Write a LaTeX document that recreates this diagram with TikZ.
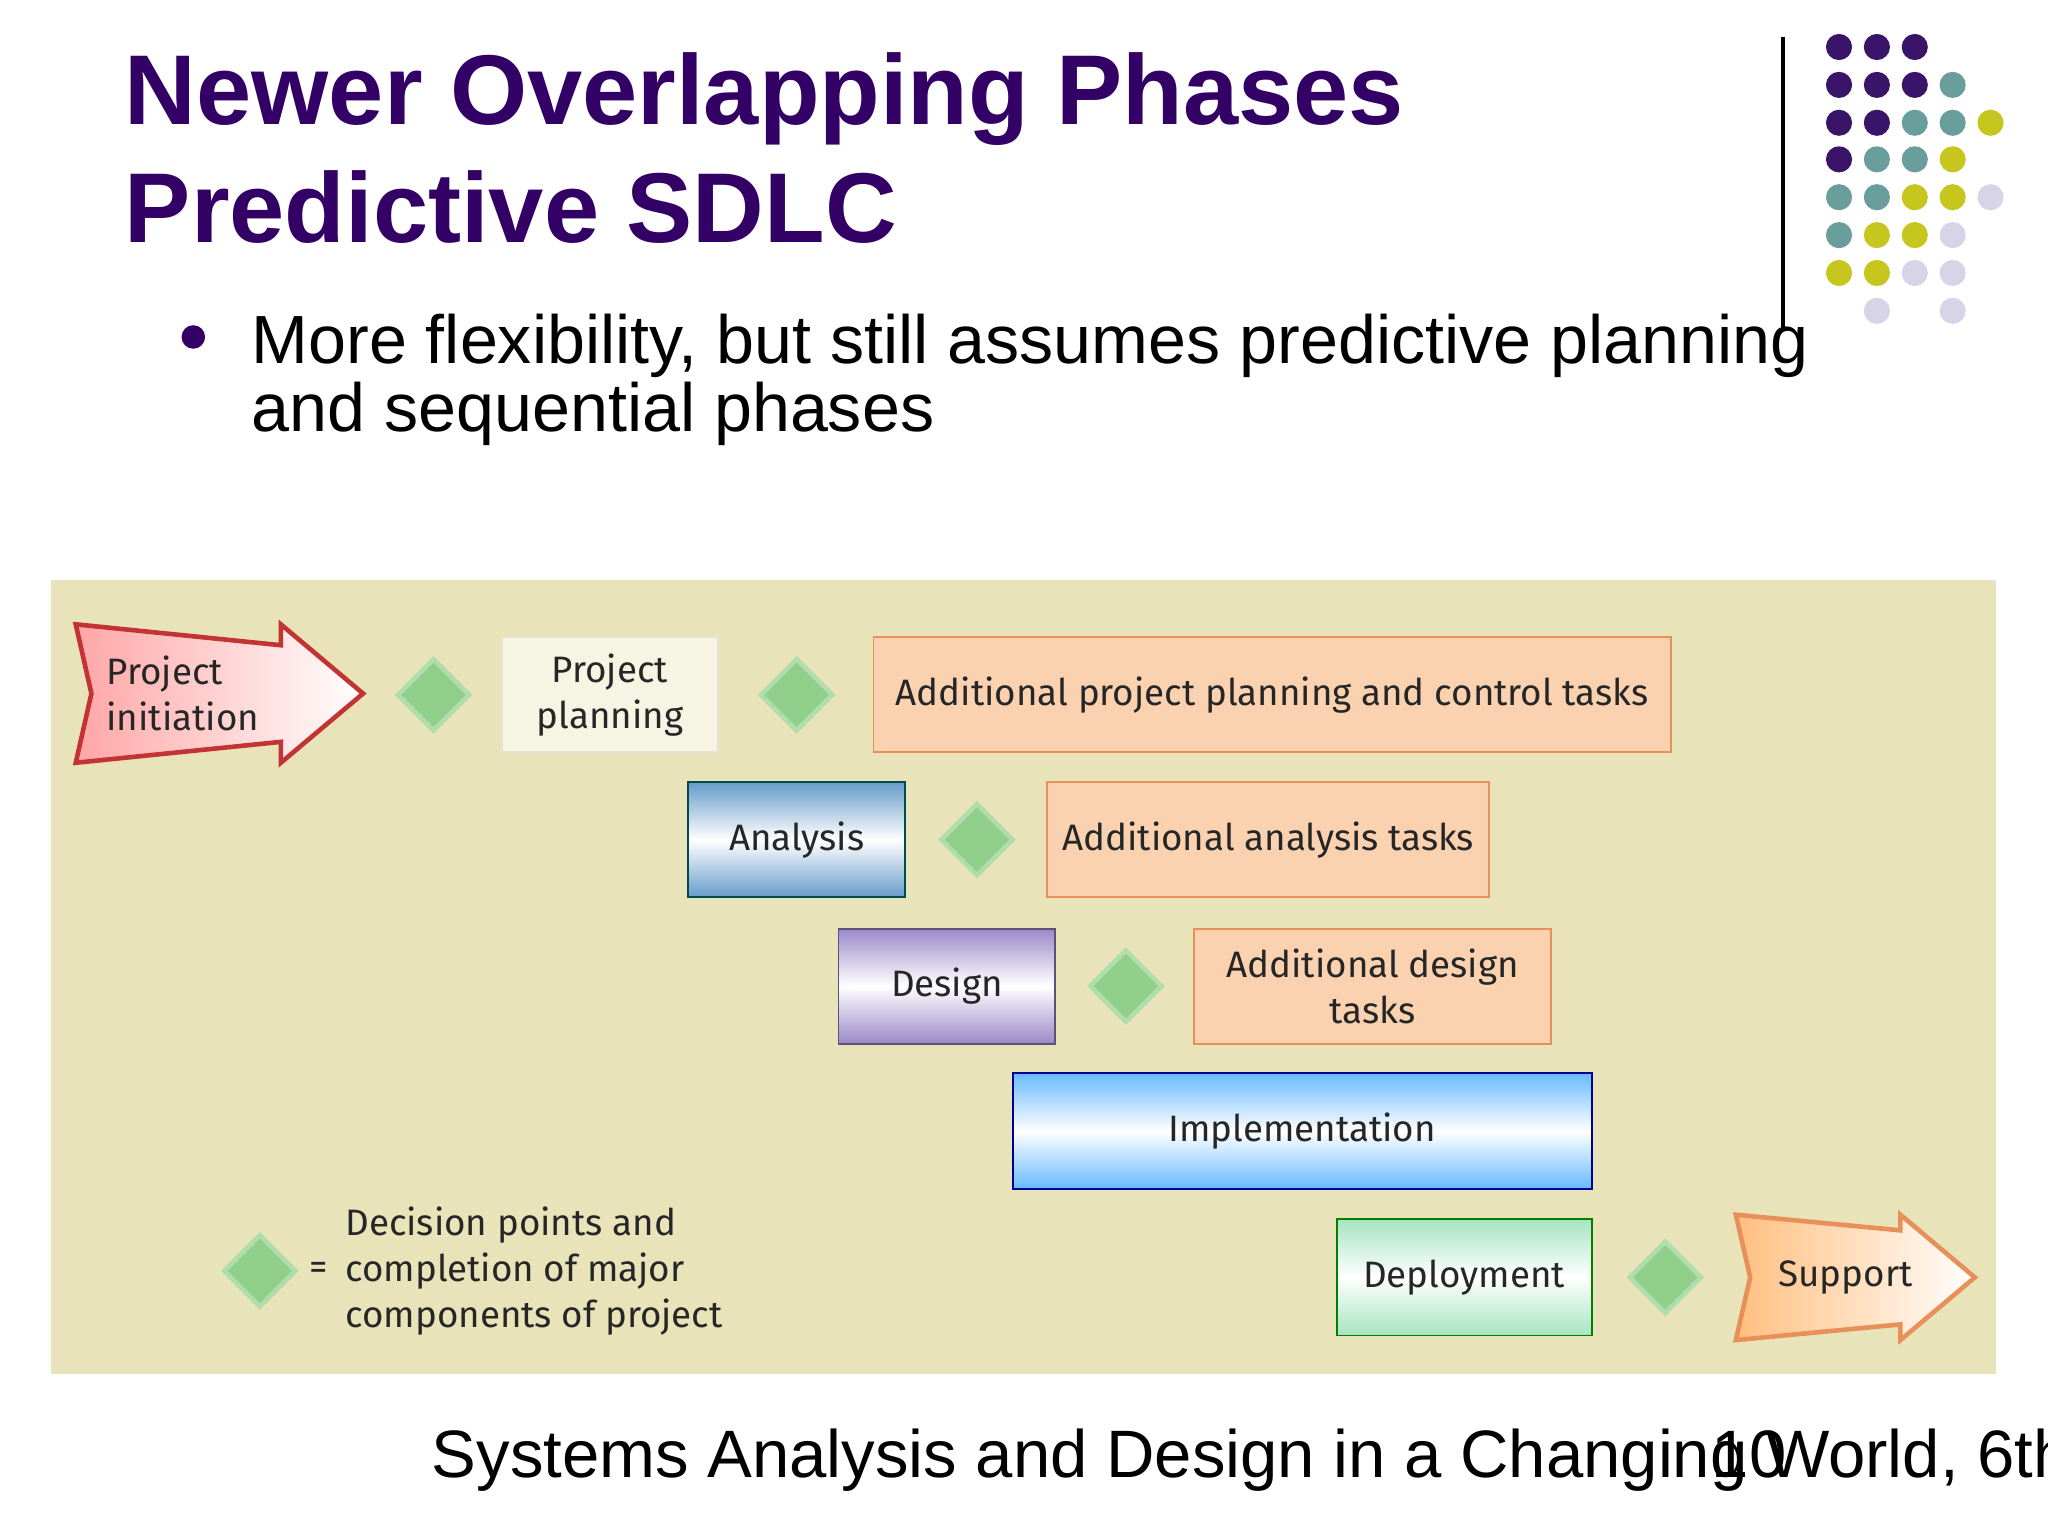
\documentclass[tikz,border=0pt]{standalone}
\usepackage{fontspec}
\setmainfont{Liberation Sans}
\newfontfamily\dfont{Fira Sans}
\usetikzlibrary{shapes.geometric}
\definecolor{ttl}{HTML}{330066}
\definecolor{dpur}{HTML}{3A1468}
\definecolor{dteal}{HTML}{6A9E9C}
\definecolor{dyel}{HTML}{C6C61E}
\definecolor{dlav}{HTML}{D8D4E8}
\definecolor{panel}{HTML}{E9E3B9}
\definecolor{orb}{HTML}{E8905A}
\definecolor{peach}{HTML}{FAD2B0}
\definecolor{dia}{HTML}{8FCF8A}
\definecolor{dsg}{HTML}{9A88C8}
\tikzset{
 lbl/.style={font=\dfont\fontsize{8}{10}\selectfont, text=black!85, align=center},
 tbox/.style={lbl, draw=orb, fill=peach, inner sep=0pt},
 dm/.style={diamond, fill=dia, draw=dia!70!white, line width=1pt, minimum width=0.56cm, minimum height=0.56cm, inner sep=0pt},
 dot/.style={circle, inner sep=0pt, minimum size=0.2cm},
}
\begin{document}
\begin{tikzpicture}[x=0.01cm,y=-0.01cm]
\useasboundingbox (0,0) rectangle (1568,1176);
\fill[white] (0,0) rectangle (1568,1176);
\node[anchor=base west, font=\bfseries\fontsize{21.6}{26}\selectfont, text=ttl, inner sep=0] (t1) at (95,95) {Newer Overlapping Phases};
\node[anchor=base west, font=\bfseries\fontsize{21.6}{26}\selectfont, text=ttl, inner sep=0] (t2) at (95,186) {Predictive SDLC};
\fill[ttl] (148,258) circle (9);
\node[anchor=base west, font=\fontsize{14.85}{15}\selectfont, inner sep=0] (b1) at (192,278) {More flexibility, but still assumes predictive planning};
\node[anchor=base west, font=\fontsize{14.85}{15}\selectfont, inner sep=0] (b2) at (192,330) {and sequential phases};
\draw[black, line width=0.8pt] (1365,28) -- (1365,250);
\foreach \x/\y/\c in {1408/36/dpur,1437/36/dpur,1466/36/dpur,
 1408/65/dpur,1437/65/dpur,1466/65/dpur,1495/65/dteal,
 1408/94/dpur,1437/94/dpur,1466/94/dteal,1495/94/dteal,1524/94/dyel,
 1408/122/dpur,1437/122/dteal,1466/122/dteal,1495/122/dyel,
 1408/151/dteal,1437/151/dteal,1466/151/dyel,1495/151/dyel,1524/151/dlav,
 1408/180/dteal,1437/180/dyel,1466/180/dyel,1495/180/dlav,
 1408/209/dyel,1437/209/dyel,1466/209/dlav,1495/209/dlav,
 1437/238/dlav,1495/238/dlav}
 \node[dot, fill=\c] at (\x,\y) {};
\fill[panel] (39,444) rectangle (1528,1052);
\draw[draw=red!70!black!80, line width=1pt, left color=red!35, right color=white]
 (58,478) -- (215,494) -- (215,478) -- (278,531) -- (215,584) -- (215,568) -- (58,584) -- (70,531) -- cycle;
\node[lbl, align=left] (pi) at (140,531) {Project\\initiation};
\node[dm] (d1) at (332,532) {};
\node[lbl, draw=panel!80!black!40, fill=panel!40!white, minimum width=1.65cm, minimum height=0.88cm] (pp) at (467,532) {Project\\planning};
\node[dm] (d2) at (610,532) {};
\node[tbox, minimum width=6.1cm, minimum height=0.88cm] (ap) at (974,532) {Additional project planning and control tasks};
\node[lbl, draw=teal!60!black, top color=teal!70!blue!60, bottom color=teal!70!blue!60, middle color=white, minimum width=1.66cm, minimum height=0.88cm] (an) at (610,643) {Analysis};
\node[dm] (d3) at (748,643) {};
\node[tbox, minimum width=3.38cm, minimum height=0.88cm] (aa) at (971,643) {Additional analysis tasks};
\node[lbl, draw=dsg!60!black, top color=dsg, bottom color=dsg, middle color=white, minimum width=1.66cm, minimum height=0.88cm] (de) at (725,755) {Design};
\node[dm] (d4) at (862,755) {};
\node[tbox, minimum width=2.73cm, minimum height=0.88cm] (ad) at (1051,755) {Additional design\\tasks};
\node[lbl, draw=blue!60!black, top color=blue!45!cyan!60, bottom color=blue!45!cyan!60, middle color=white, minimum width=4.43cm, minimum height=0.89cm] (im) at (997,866) {Implementation};
\node[lbl, draw=green!50!black, top color=green!40!teal!35, bottom color=green!40!teal!35, middle color=white, minimum width=1.95cm, minimum height=0.89cm] (dp) at (1121,978) {Deployment};
\node[dm] (d5) at (1275,978) {};
\draw[draw=orb, line width=1pt, left color=orange!50, right color=white]
 (1329,930) -- (1455,942) -- (1455,930) -- (1512,978) -- (1455,1026) -- (1455,1014) -- (1329,1026) -- (1340,978) -- cycle;
\node[lbl] (su) at (1413,978) {Support};
\node[dm] (d6) at (199,973) {};
\node[lbl] (eq) at (244,973) {=};
\node[lbl, align=left, anchor=west] (lg) at (252,973) {Decision points and\\completion of major\\components of project};
\begin{scope}
\clip (0,0) rectangle (1568,1176);
\node[anchor=base west, font=\fontsize{14.6}{15}\selectfont, inner sep=0] (ft) at (330,1131) {Systems Analysis and Design in a Changing World, 6th};
\node[anchor=base west, font=\fontsize{14.6}{15}\selectfont, inner sep=0] (pg) at (1310,1131) {10};
\end{scope}
\end{tikzpicture}
\end{document}
